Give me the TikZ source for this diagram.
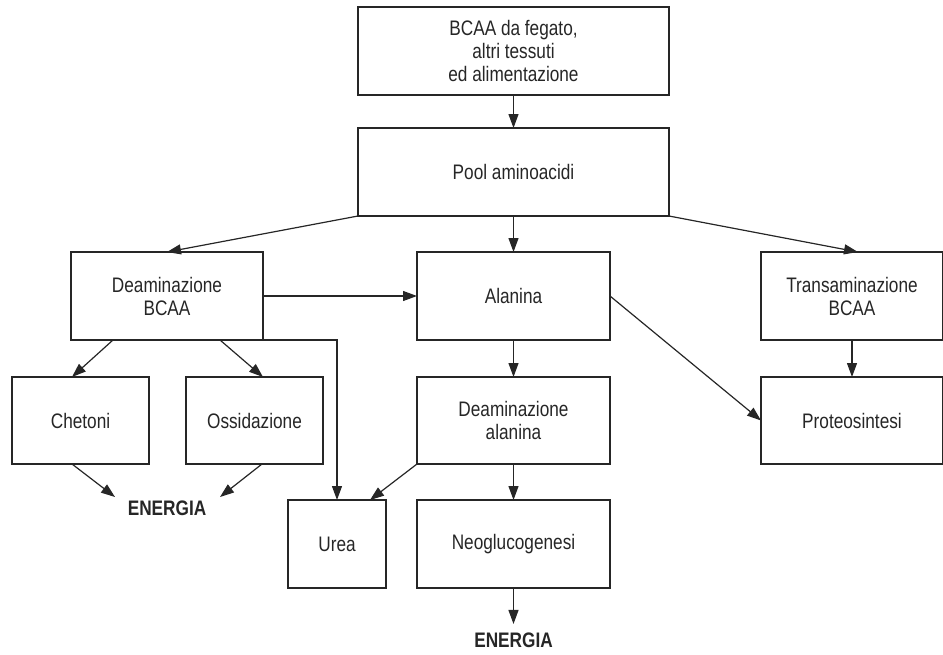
\documentclass[tikz,border=0pt]{standalone}
\usepackage{fontspec}
\setmainfont{Liberation Sans}[FakeStretch=0.82]
\usepackage{tikz}
\usetikzlibrary{arrows.meta}
\definecolor{ink}{HTML}{262626}

\begin{document}
\begin{tikzpicture}[x=1pt, y=-1pt, line width=1.2pt, draw=ink,
    flow/.style={-{Triangle[length=14pt,width=10pt]}},
    energy/.style={font=\fontsize{21}{24}\selectfont\bfseries, text=ink, inner sep=2pt}]
  \useasboundingbox (0,0) rectangle (943,654);
  {\tikzstyle{every node}=[rectangle, draw=ink, text=ink, align=center, inner sep=0pt,
      outer sep=0pt, minimum height=88pt, font=\fontsize{21}{23}\selectfont]
    \node[minimum width=311pt] (src) at (513.5,51) {BCAA da fegato,\\altri tessuti\\ed alimentazione};
    \node[minimum width=311pt] (pool) at (513.5,172) {Pool aminoacidi};

    \node[minimum width=192pt] (deamb) at (167,296) {Deaminazione\\BCAA};
    \node[minimum width=193pt] (alan) at (513.5,296) {Alanina};
    \node[minimum width=182pt] (trans) at (852,296) {Transaminazione\\BCAA};

    \node[minimum width=137pt, minimum height=87pt] (chet) at (80.5,420.5) {Chetoni};
    \node[minimum width=137pt, minimum height=87pt] (ossid) at (254.5,420.5) {Ossidazione};
    \node[minimum width=193pt, minimum height=87pt] (deama) at (513.5,420.5) {Deaminazione\\alanina};
    \node[minimum width=182pt, minimum height=87pt] (prot) at (852,420.5) {Proteosintesi};

    \node[minimum width=98pt] (urea) at (337,544) {Urea};
    \node[minimum width=193pt] (neo) at (513.5,544) {Neoglucogenesi};
  }
  \node[energy] (en1) at (167,508) {ENERGIA};
  \node[energy] (en2) at (513.5,640) {ENERGIA};

  % upper part
  \draw[flow] (src) -- (pool);
  \draw[flow] (pool.south west) -- (deamb.north);
  \draw[flow] (pool) -- (alan);
  \draw[flow] (pool.south east) -- ([xshift=6pt]trans.north);
  \draw[flow] (deamb) -- (alan);

  % left branch
  \draw[flow] ([xshift=-54pt]deamb.south) -- ([xshift=-8.5pt]chet.north);
  \draw[flow] ([xshift=53pt]deamb.south) -- ([xshift=8.5pt]ossid.north);
  \draw[flow] ([xshift=-8.5pt]chet.south) -- ([xshift=-52pt,yshift=11pt]en1.center);
  \draw[flow] ([xshift=7.5pt]ossid.south) -- ([xshift=53pt,yshift=11pt]en1.center);
  \draw[flow] (deamb.south east) -- (urea.north |- deamb.south east) -- (urea.north);

  % middle and right
  \draw[flow] (alan) -- (deama);
  \draw[flow] (alan.east) -- (prot.west);
  \draw[flow] (trans) -- (prot);
  \draw[flow] (deama.south west) -- ([xshift=-16pt]urea.north east);
  \draw[flow] (deama) -- (neo);
  \draw[flow, shorten >=6pt] (neo) -- (en2);
\end{tikzpicture}
\end{document}
